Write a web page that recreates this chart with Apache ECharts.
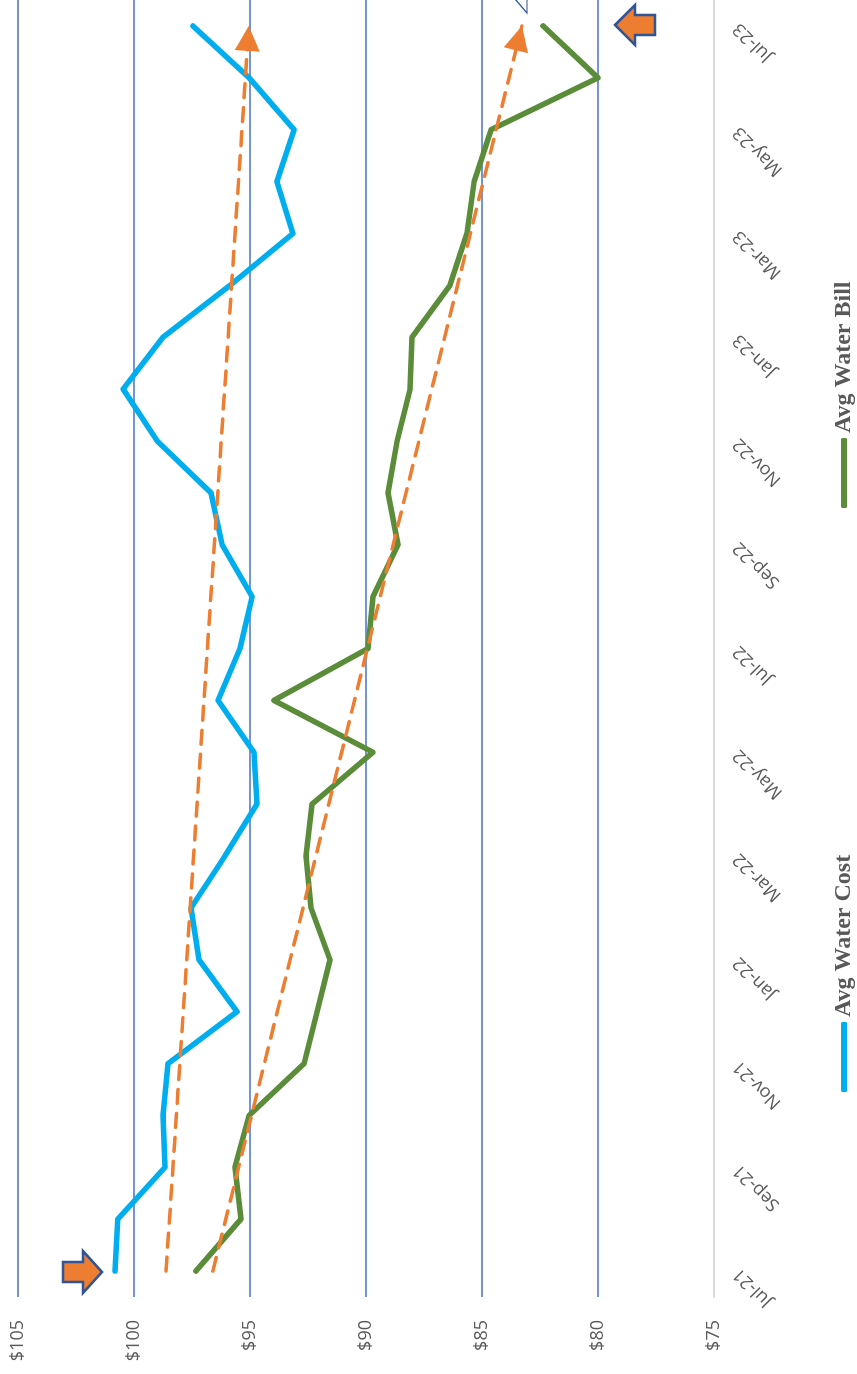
<!DOCTYPE html>
<html>
<head>
<meta charset="utf-8">
<title>Avg Water Cost vs Avg Water Bill</title>
<script src="https://cdn.jsdelivr.net/npm/echarts@6/dist/echarts.min.js"></script>
<style>
  html, body { margin: 0; padding: 0; background: #ffffff; overflow: hidden; }
  body { width: 857px; height: 1374px; position: relative; }
  /* The chart is laid out landscape and turned a quarter turn counter-clockwise */
  #chart {
    position: absolute; left: 0; top: 0;
    width: 1374px; height: 857px;
    transform-origin: 0 0;
    transform: translate(0, 1374px) rotate(-90deg);
  }
</style>
</head>
<body>
<div id="chart"></div>
<script>
// Monthly categories
const months = ['Jul-21','Aug-21','Sep-21','Oct-21','Nov-21','Dec-21','Jan-22','Feb-22','Mar-22','Apr-22','May-22','Jun-22',
                'Jul-22','Aug-22','Sep-22','Oct-22','Nov-22','Dec-22','Jan-23','Feb-23','Mar-23','Apr-23','May-23','Jun-23','Jul-23'];

// Series values ($)
const avgWaterCost = [100.82, 100.70, 98.66, 98.75, 98.53, 95.56, 97.20, 97.54, 96.08, 94.70, 94.83, 96.38,
                      95.43, 94.91, 96.20, 96.68, 99.00, 100.47, 98.75, 95.86, 93.15, 93.84, 93.10, 95.04, 97.46];
const avgWaterBill = [97.33, 95.39, 95.65, 95.04, 92.67, 92.11, 91.55, 92.37, 92.59, 92.33, 89.70, 93.97,
                      89.91, 89.70, 88.62, 89.05, 88.66, 88.10, 88.02, 86.38, 85.65, 85.34, 84.61, 80.00, 82.37];

// Trend line end values (first month, last month)
const trendCost = [98.62, 95.05];
const trendBill = [96.60, 83.28];

// Value axis ticks
const valueTicks = { min: 75, max: 105, step: 5 };

const COST_COLOR = '#00AEEF';
const BILL_COLOR = '#5B8C3A';
const TREND_COLOR = '#ED7D31';
const GRID_COLOR = '#4472C4';
const TEXT_COLOR = '#595959';

// Arrowhead whose tip sits at the centre of its box, so the tip lands on the line end
const ARROW_HEAD = 'path://M0,-20 L0,-20 M0,0 L10,20 L-10,20 Z';

// Dashed trend line with an arrowhead at its latest month
function trendSeries(name, values) {
  return {
    name: name,
    type: 'line',
    data: [],
    silent: true,
    z: 5,
    markLine: {
      silent: true,
      symbol: ['none', ARROW_HEAD],
      symbolSize: [25, 50],
      symbolKeepAspect: false,
      label: { show: false },
      emphasis: { disabled: true },
      lineStyle: { color: TREND_COLOR, width: 3.5, type: [14, 10], cap: 'round' },
      itemStyle: { color: TREND_COLOR },
      data: [[
        { coord: [months[0], values[0]] },
        { coord: [months[months.length - 1], values[1]] }
      ]]
    }
  };
}

function blockArrow(points) {
  return {
    type: 'polygon',
    shape: { points: points },
    style: { fill: TREND_COLOR, stroke: '#2F5597', lineWidth: 2.5, lineJoin: 'miter' },
    z: 100
  };
}

const chart = echarts.init(document.getElementById('chart'), null, { renderer: 'canvas' });

chart.setOption({
  backgroundColor: '#ffffff',
  animation: false,
  grid: { left: 77, right: 0, top: 18, bottom: 143, containLabel: false },
  legend: [
    {
      data: ['Avg Water Cost'],
      left: 277, top: 827,
      itemWidth: 70, itemHeight: 6, icon: 'roundRect',
      textStyle: { fontFamily: 'Liberation Serif', fontWeight: 'bold', fontSize: 24, color: TEXT_COLOR }
    },
    {
      data: ['Avg Water Bill'],
      left: 861, top: 827,
      itemWidth: 70, itemHeight: 6, icon: 'roundRect',
      textStyle: { fontFamily: 'Liberation Serif', fontWeight: 'bold', fontSize: 24, color: TEXT_COLOR }
    }
  ],
  xAxis: {
    type: 'category',
    data: months,
    boundaryGap: true,
    axisLine: { show: true, lineStyle: { color: '#D9D9D9', width: 2 } },
    axisTick: { show: false },
    axisLabel: {
      interval: 1,
      rotate: 45,
      margin: 22,
      fontFamily: 'Open Sans',
      fontSize: 18,
      color: TEXT_COLOR
    },
    splitLine: { show: false }
  },
  yAxis: {
    type: 'value',
    min: valueTicks.min,
    max: valueTicks.max,
    interval: valueTicks.step,
    axisLine: { show: false },
    axisTick: { show: false },
    axisLabel: {
      margin: 23,
      fontFamily: 'Open Sans',
      fontSize: 18,
      color: TEXT_COLOR,
      formatter: v => '$' + v
    },
    splitLine: { show: true, showMinLine: false, lineStyle: { color: GRID_COLOR, width: 1.5 } }
  },
  series: [
    {
      name: 'Avg Water Cost',
      type: 'line',
      data: avgWaterCost,
      showSymbol: false,
      symbol: 'none',
      color: COST_COLOR,
      lineStyle: { color: COST_COLOR, width: 5.5, cap: 'round', join: 'round' },
      z: 3
    },
    {
      name: 'Avg Water Bill',
      type: 'line',
      data: avgWaterBill,
      showSymbol: false,
      symbol: 'none',
      color: BILL_COLOR,
      lineStyle: { color: BILL_COLOR, width: 5.5, cap: 'round', join: 'round' },
      z: 3
    },
    trendSeries('Cost trend', trendCost),
    trendSeries('Bill trend', trendBill)
  ],
  graphic: [
    blockArrow([[92, 63], [112, 63], [112, 83], [123, 83], [102, 102], [81, 83], [92, 83]]),
    blockArrow([[1349, 615], [1369, 635], [1359, 635], [1359, 655], [1339, 655], [1339, 635], [1329, 635]]),
    {
      type: 'polygon',
      shape: { points: [[1375, 515], [1361, 527], [1375, 527]] },
      style: { fill: '#ffffff', stroke: '#2F5597', lineWidth: 1.2 },
      z: 100
    }
  ]
});
</script>
</body>
</html>
